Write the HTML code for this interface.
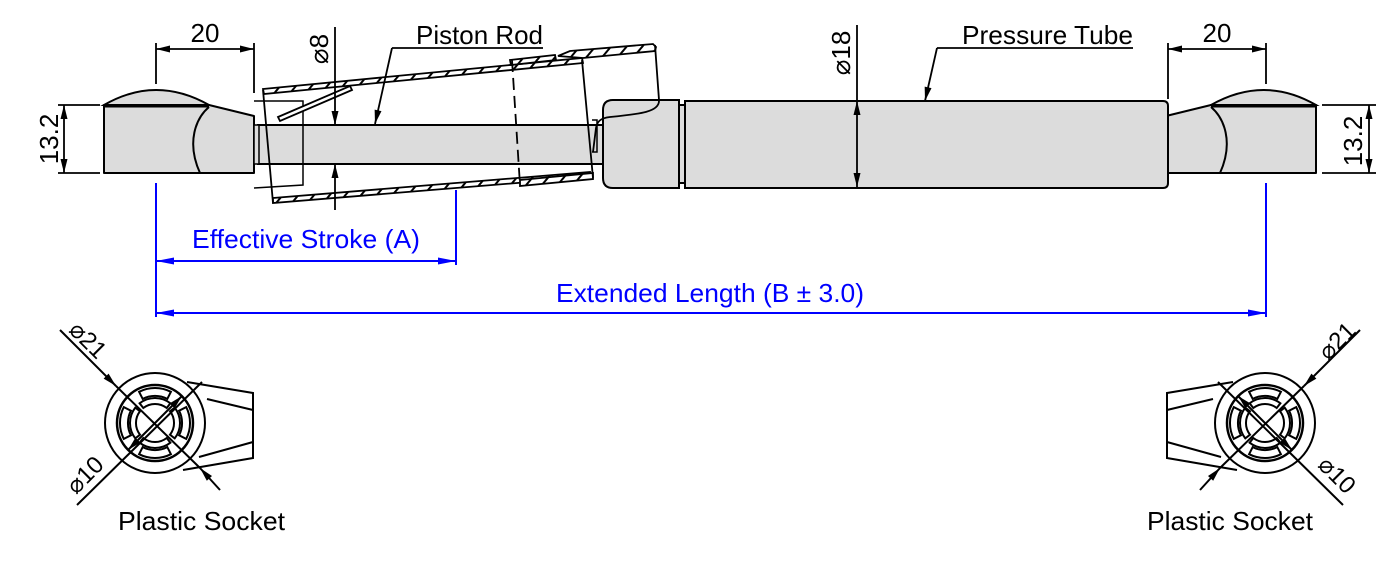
<!DOCTYPE html>
<html><head><meta charset="utf-8"><style>
html,body{margin:0;padding:0;background:#fff;}
svg{display:block;font-family:"Liberation Sans","DejaVu Sans",sans-serif;}
</style></head><body>
<svg width="1400" height="564" viewBox="0 0 1400 564" xmlns="http://www.w3.org/2000/svg">
<defs>
<marker id="a" markerUnits="userSpaceOnUse" viewBox="-16 -5 17 10" markerWidth="17" markerHeight="10" refX="0" refY="0" orient="auto-start-reverse"><path d="M0,0 L-14,-3.5 L-14,3.5Z" fill="#000"/></marker>
<marker id="b" markerUnits="userSpaceOnUse" viewBox="-20 -5 21 10" markerWidth="21" markerHeight="10" refX="0" refY="0" orient="auto-start-reverse"><path d="M0,0 L-18,-3.5 L-18,3.5Z" fill="#00f"/></marker>
<pattern id="h" width="12" height="12" patternUnits="userSpaceOnUse" patternTransform="rotate(40)"><rect width="12" height="12" fill="#fff"/><path d="M6,0 L6,12" stroke="#000" stroke-width="2"/></pattern>
<g id="fit">
  <path d="M104,105 Q156,75 209,105 Z" fill="#dcdcdc" stroke="#000" stroke-width="2"/>
  <path d="M104,105 L209,105 L254,116 L254,173 L104,173 Z" fill="#dcdcdc" stroke="#000" stroke-width="2" stroke-linejoin="round"/>
  <path d="M104,106 L209,106" stroke="#000" stroke-width="3"/>
  <path d="M209,107 C196,118 186,142 200,173" fill="none" stroke="#000" stroke-width="2"/>
</g>
<g id="tab">
  <path d="M139.1,391.8 A35,35 0 0 1 170.9,391.8 L167.3,398.9 A27,27 0 0 0 142.7,398.9 Z"/>
  <path d="M139.6,403.3 A25,25 0 0 1 170.4,403.3 L166.7,408 A19,19 0 0 0 143.3,408 Z"/>
</g>
<g id="sock" fill="none" stroke="#000" stroke-width="2">
  <circle cx="155" cy="423" r="50"/>
  <circle cx="155" cy="423" r="38" stroke-width="2.5"/>
  <use href="#tab"/>
  <use href="#tab" transform="rotate(90 155 423)"/>
  <use href="#tab" transform="rotate(180 155 423)"/>
  <use href="#tab" transform="rotate(270 155 423)"/>
  <path d="M187,382 L253,393 L253,458 L183,470"/>
  <path d="M207,399 L253,410 M253,442 L199,457"/>
  <path d="M60,330 L116,386" marker-end="url(#a)"/>
  <path d="M116,386 L200,468"/>
  <path d="M220,490 L200,468" marker-end="url(#a)"/>
  <path d="M77,505 L202,382"/>
  <path d="M155,423 L182,396" marker-end="url(#a)"/>
  <path d="M155,423 L128,450" marker-end="url(#a)"/>
</g>
</defs>

<!-- left fitting -->
<use href="#fit"/>
<!-- right fitting mirrored -->
<use href="#fit" transform="translate(1420,0) scale(-1,1)"/>

<!-- rod -->
<rect x="258" y="125" width="345" height="39" fill="#dcdcdc" stroke="#000" stroke-width="2"/>
<rect x="254" y="125" width="5" height="39" fill="#dcdcdc" stroke="#000" stroke-width="1.5"/>
<path d="M254,101 L303,101 L303,185 L254,188" fill="none" stroke="#000" stroke-width="1.5"/>

<!-- tilted ghost tube -->
<g stroke="#000" stroke-width="1.8" fill="none">
  <path d="M263,89 L582,58 L583,63 L264,94 Z" fill="url(#h)"/>
  <path d="M510,60 L555,55 L556,60 L511,65 Z" fill="url(#h)"/>
  <path d="M273,198 L590,172 L590,177 L273,203 Z" fill="url(#h)"/>
  <path d="M520,180 L593,173 L593,179 L520,186 Z" fill="url(#h)"/>
  <path d="M558,56 L570,51 L653,44 L656,47 L655,51 L583,58 Z" fill="url(#h)"/>
  <path d="M263,90 L273,203"/>
  <path d="M582,60 L593,178"/>
  <path d="M512,60 L520,185" stroke-dasharray="12,6"/>
  <path d="M278,117 L350,86 L352,90 L280,121 Z" fill="#fff"/>
</g>

<!-- collar and tube -->
<path d="M613,100 L679,100 L679,188 L613,188 Q603,188 603,178 L603,110 Q603,100 613,100 Z" fill="#dcdcdc" stroke="#000" stroke-width="2"/>
<rect x="679" y="105" width="6" height="78" fill="#dcdcdc" stroke="#000" stroke-width="2"/>
<path d="M685,101 L1163,101 Q1168,101 1168,106 L1168,183 Q1168,188 1163,188 L685,188 Z" fill="#dcdcdc" stroke="#000" stroke-width="2"/>
<path d="M655,45 L659,100 C660,112 640,114 610,117 C600,118 597,122 596,128 L593,152" fill="none" stroke="#000" stroke-width="1.8"/>
<path d="M592,120 L597,120 L597,152 L592,152" fill="none" stroke="#000" stroke-width="1.5"/>

<!-- dimensions black -->
<g stroke="#000" stroke-width="1.8" fill="none">
  <path d="M156,43 L156,84 M254,43 L254,93"/>
  <path d="M156,49 L254,49" marker-start="url(#a)" marker-end="url(#a)"/>
  <path d="M1168,43 L1168,99 M1266,43 L1266,84"/>
  <path d="M1168,49 L1266,49" marker-start="url(#a)" marker-end="url(#a)"/>
  <path d="M58,105 L100,105 M58,173 L100,173"/>
  <path d="M64,105 L64,173" marker-start="url(#a)" marker-end="url(#a)"/>
  <path d="M1322,105 L1376,105 M1322,173 L1376,173"/>
  <path d="M1369,105 L1369,173" marker-start="url(#a)" marker-end="url(#a)"/>
  <path d="M335,27 L335,125" marker-end="url(#a)"/>
  <path d="M335,210 L335,164" marker-end="url(#a)"/>
  <path d="M857,25 L857,101"/>
  <path d="M857,101 L857,187" marker-start="url(#a)" marker-end="url(#a)"/>
  <path d="M392,48 L543,48"/>
  <path d="M392,48 L375,124" marker-end="url(#a)"/>
  <path d="M937,48 L1133,48"/>
  <path d="M937,48 L925,101" marker-end="url(#a)"/>
</g>

<!-- blue dims -->
<g stroke="#00f" stroke-width="2" fill="none">
  <path d="M156,183 L156,317 M1266,183 L1266,317 M456,190 L456,265"/>
  <path d="M156,261 L456,261" marker-start="url(#b)" marker-end="url(#b)"/>
  <path d="M156,313 L1266,313" marker-start="url(#b)" marker-end="url(#b)"/>
</g>

<!-- sockets -->
<use href="#sock"/>
<use href="#sock" transform="translate(1420,0) scale(-1,1)"/>

<!-- text -->
<g font-size="26" fill="#000">
  <text x="205" y="42" text-anchor="middle">20</text>
  <text x="1217" y="42" text-anchor="middle">20</text>
  <text transform="translate(58,139) rotate(-90)" text-anchor="middle">13.2</text>
  <text transform="translate(1362,141) rotate(-90)" text-anchor="middle">13.2</text>
  <text transform="translate(328,49) rotate(-90)" text-anchor="middle">⌀8</text>
  <text transform="translate(850,53) rotate(-90)" text-anchor="middle">⌀18</text>
  <text x="416" y="44" textLength="127" lengthAdjust="spacingAndGlyphs">Piston Rod</text>
  <text x="962" y="44" textLength="171" lengthAdjust="spacingAndGlyphs">Pressure Tube</text>
  <text x="118" y="530" textLength="167" lengthAdjust="spacingAndGlyphs">Plastic Socket</text>
  <text x="1147" y="530" textLength="166" lengthAdjust="spacingAndGlyphs">Plastic Socket</text>
</g>
<g font-size="24" fill="#000" text-anchor="middle">
  <text transform="translate(88,340) rotate(45)" y="8">⌀21</text>
  <text transform="translate(85,475) rotate(-45)" y="8">⌀10</text>
  <text transform="translate(1337,341) rotate(-45)" y="8">⌀21</text>
  <text transform="translate(1337,475) rotate(45)" y="8">⌀10</text>
</g>
<g font-size="26" fill="#00f">
  <text x="192" y="248" textLength="228" lengthAdjust="spacingAndGlyphs">Effective Stroke (A)</text>
  <text x="556" y="302" textLength="308" lengthAdjust="spacingAndGlyphs">Extended Length (B ± 3.0)</text>
</g>
</svg>
</body></html>
